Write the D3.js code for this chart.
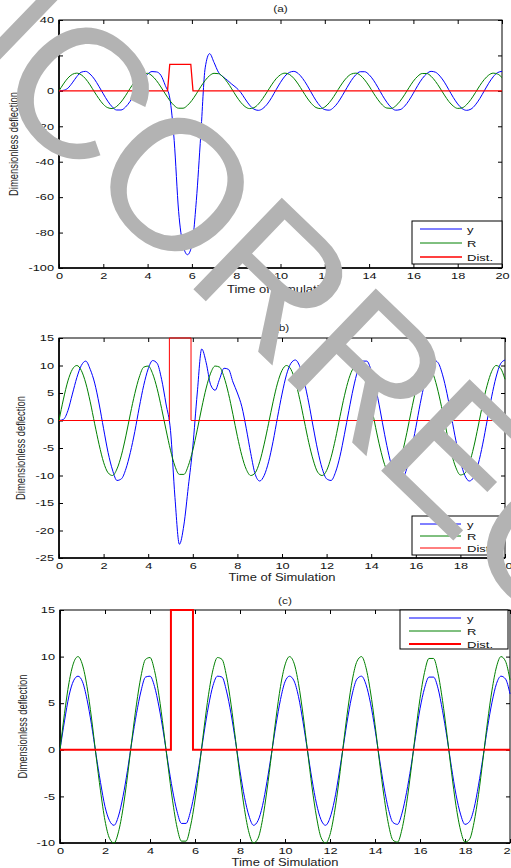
<!doctype html>
<html lang="en">
<head>
  <meta charset="utf-8">
  <title>Dimensionless deflection</title>
  <script src="https://cdn.jsdelivr.net/npm/d3@7"></script>
  <style>
  body { margin: 0; background: #fff; }
  svg { display: block; font-family: "Liberation Sans", Arial, sans-serif; }
  </style>
</head>
<body>
<div id="chart"></div>
<script>
// sampling grid of the simulation, 0..20 step 0.2
var time = d3.range(0, 20.001, 0.2);

// reference signal R (same in all three runs)
var refR = [
  0, 3.9, 7.2, 9.3, 10.0, 9.1, 6.8, 3.4, -0.6, -4.4,
  -7.6, -9.5, -10.0, -8.8, -6.3, -2.8, 1.2, 4.9, 7.9, 9.7,
  9.9, 8.5, 5.8, 2.2, -1.7, -5.4, -8.3, -9.8, -9.8, -8.2,
  -5.4, -1.7, 2.3, 5.9, 8.6, 9.9, 9.7, 7.9, 4.9, 1.1,
  -2.9, -6.4, -8.9, -10.0, -9.5, -7.5, -4.3, -0.5, 3.4, 6.8,
  9.1, 10.0, 9.3, 7.1, 3.8, -0.1, -4.0, -7.2, -9.4, -10.0,
  -9.1, -6.7, -3.3, 0.7, 4.5, 7.6, 9.5, 10.0, 8.8, 6.2,
  2.7, -1.3, -5.0, -8.0, -9.7, -9.9, -8.5, -5.8, -2.2, 1.8,
  5.5, 8.3, 9.8, 9.8, 8.2, 5.3, 1.6, -2.4, -6.0, -8.6,
  -9.9, -9.6, -7.8, -4.8, -1.0, 3.0, 6.4, 8.9, 10.0, 9.5,
  7.5
];

// output y, run (a)
var outA = [
  0, 0.3, 1.5, 4.5, 8.0, 10.5, 11.0,
  9.5, 6.6, 2.6, -1.7, -5.8, -9.0, -10.8, -10.8, -9.2, -6.1, -2.0, 2.4, 6.4, 9.4, 10.9, 10.7, 8.8,
  3.0, -4.0, -28, -68, -87, -92.5, -87, -62, -25, 13, 21, 16, 10.5, 8.0, 6.0, 3.8, 1.8, -0.8, -4.5, -8.0, -10.3,
  -11.0, -10.0, -7.5, -3.8, 0.6, 4.8, 8.3, 10.4, 11.0, 9.8, 7.0, 3.2, -1.2, -5.4, -8.7,
  -10.6, -10.9, -9.4, -6.5, -2.5, 1.8, 5.9, 9.1, 10.8, 10.8, 9.1, 6.0, 1.9, -2.5, -6.4,
  -9.4, -10.9, -10.6, -8.7, -5.4, -1.3, 3.1, 6.9, 9.7, 11.0, 10.5, 8.3, 4.9, 0.6, -3.7,
  -7.4, -10.0, -11.0, -10.3, -7.9, -4.3, 0.0, 4.3, 7.9, 10.3, 11.0
];

// output y, run (b)
var outB = [
  0, 0.2, 1.8, 4.8, 7.8, 10.0, 10.8, 9.3, 6.8, 3.0, -1.5, -5.8, -9.0, -10.9, -10.6, -8.8, -5.8, -2.0, 2.4, 6.4,
  9.4, 10.9, 10.4, 7.5, 3.0,
  -1.8, -14, -22.5, -19, -12, -4.8, 5, 13, 10.5, 6.5, 5.5, 7.5, 9.5, 9.3, 7.0, 5.0, 2.5, -1.5, -6.0, -9.8,
  -11.0, -10.0, -7.5, -3.8, 0.6, 4.8, 8.3, 10.4, 11.0, 9.8, 7.0, 3.2, -1.2, -5.4, -8.7,
  -10.6, -10.9, -9.4, -6.5, -2.5, 1.8, 5.9, 9.1, 10.8, 10.8, 9.1, 6.0, 1.9, -2.5, -6.4,
  -9.4, -10.9, -10.6, -8.7, -5.4, -1.3, 3.1, 6.9, 9.7, 11.0, 10.5, 8.3, 4.9, 0.6, -3.7,
  -7.4, -10.0, -11.0, -10.3, -7.9, -4.3, 0.0, 4.3, 7.9, 10.3, 11.0
];

// output y, run (c)
var outC = [
  0, 3.1, 5.8, 7.4, 7.9, 7.3, 5.4, 2.7, -0.5, -3.5,
  -6.1, -7.6, -8.1, -7.1, -5.0, -2.2, 1.0, 3.9, 6.3, 7.8,
  7.9, 6.8, 4.6, 1.8, -1.4, -4.3, -6.6, -7.9, -7.9, -6.6,
  -4.3, -1.4, 1.8, 4.7, 6.9, 7.9, 7.8, 6.3, 3.9, 0.9,
  -2.3, -5.1, -7.1, -8.1, -7.6, -6.0, -3.4, -0.4, 2.7, 5.4,
  7.3, 7.9, 7.4, 5.7, 3.0, -0.1, -3.2, -5.8, -7.5, -8.1,
  -7.3, -5.4, -2.6, 0.5, 3.6, 6.1, 7.6, 7.9, 7.0, 5.0,
  2.2, -1.0, -4.0, -6.4, -7.8, -8.0, -6.8, -4.6, -1.8, 1.4,
  4.4, 6.6, 7.8, 7.8, 6.6, 4.2, 1.3, -1.9, -4.8, -6.9,
  -8.0, -7.7, -6.3, -3.8, -0.8, 2.4, 5.1, 7.1, 7.9, 7.6,
  6.0
];

// disturbance pulses
var distTimeA = [0, 4.9, 5.0, 5.95, 6.05, 20];
var distTimeB = [0, 4.95, 4.95, 5.92, 5.92, 20];
var distTimeC = [0, 4.93, 4.93, 5.91, 5.91, 20];
var distValue = [0, 0, 15, 15, 0, 0];

var xTicks = [0, 2, 4, 6, 8, 10, 12, 14, 16, 18, 20];
var yTicksA = [40, 20, 0, -20, -40, -60, -80, -100];
var yTicksB = [15, 10, 5, 0, -5, -10, -15, -20, -25];
var yTicksC = [15, 10, 5, 0, -5, -10];
var seriesNames = ["y", "R", "Dist."];
var seriesColors = ["#0000ff", "#008000", "#ff0000"];

var width = 511, height = 868;
var font = "Liberation Sans, Arial, sans-serif";

var svg = d3.select("#chart").append("svg")
    .attr("width", width)
    .attr("height", height);

var panels = [
  { title: "(a)", x0: 59, x1: 502, y0: 20, y1: 268, dom: [-100, 40], ticks: yTicksA,
    out: outA, distT: distTimeA, distW: 1.3, labX: 18, titleY: 12, xlabY: 293,
    leg: { x: 412, y: 221, w: 90, h: 43, rows: [229, 243, 257], l1: 420, l2: 462, tx: 467 } },
  { title: "(b)", x0: 59, x1: 505, y0: 338, y1: 558, dom: [-25, 15], ticks: yTicksB,
    out: outB, distT: distTimeB, distW: 1, labX: 25, titleY: 331, xlabY: 581,
    leg: { x: 412, y: 516, w: 87, h: 39, rows: [524, 536, 548], l1: 420, l2: 461, tx: 467 } },
  { title: "(c)", x0: 60, x1: 510, y0: 610, y1: 843, dom: [-10, 15], ticks: yTicksC,
    out: outC, distT: distTimeC, distW: 2, labX: 27, titleY: 604, xlabY: 866,
    leg: { x: 400, y: 610, w: 108, h: 39, rows: [618, 631, 644], l1: 409, l2: 461, tx: 467 } }
];

panels.forEach(function(p, i) {
  var w = p.x1 - p.x0, h = p.y1 - p.y0;
  var x = d3.scaleLinear().domain([0, 20]).range([0, w]);
  var y = d3.scaleLinear().domain(p.dom).range([h, 0]);

  var g = svg.append("g").attr("transform", "translate(" + p.x0 + "," + p.y0 + ")");

  g.append("clipPath").attr("id", "clip" + i)
    .append("rect").attr("x", -1).attr("y", -1).attr("width", w + 2).attr("height", h + 2);

  // box
  g.append("rect").attr("width", w).attr("height", h)
    .attr("fill", "none").attr("stroke", "#000").attr("stroke-width", 1);
  g.append("path").attr("d", "M0,0V" + h + "H" + w)
    .attr("fill", "none").attr("stroke", "#000").attr("stroke-width", 1.6);

  // axes, ticks pointing in
  var gx = g.append("g").attr("transform", "translate(0," + h + ")")
    .call(d3.axisBottom(x).tickValues(xTicks).tickSize(-4).tickPadding(5).tickFormat(String));
  var gy = g.append("g")
    .call(d3.axisLeft(y).tickValues(p.ticks).tickSize(-4).tickPadding(5).tickFormat(String));
  g.append("g").call(d3.axisTop(x).tickValues(xTicks).tickSize(-4).tickFormat(""));
  g.append("g").attr("transform", "translate(" + w + ",0)")
    .call(d3.axisRight(y).tickValues(p.ticks).tickSize(-4).tickFormat(""));
  g.selectAll(".domain").remove();
  g.selectAll("g").attr("font-family", font).attr("font-size", 8.5);
  gx.selectAll("text").attr("transform", "scale(1.5,1)").attr("fill", "#111");
  gy.selectAll("text").attr("x", -5 / 1.5).attr("transform", "scale(1.5,1)").attr("fill", "#111");

  var line = d3.line()
    .x(function(d) { return x(d[0]); })
    .y(function(d) { return y(d[1]); });
  var smooth = d3.line()
    .x(function(d) { return x(d[0]); })
    .y(function(d) { return y(d[1]); })
    .curve(d3.curveMonotoneX);

  var plot = g.append("g").attr("clip-path", "url(#clip" + i + ")");
  plot.append("path")
    .datum(time.map(function(t, k) { return [t, p.out[k]]; }))
    .attr("d", smooth).attr("fill", "none")
    .attr("stroke", seriesColors[0]).attr("stroke-width", 1);
  plot.append("path")
    .datum(time.map(function(t, k) { return [t, refR[k]]; }))
    .attr("d", smooth).attr("fill", "none")
    .attr("stroke", seriesColors[1]).attr("stroke-width", 1);
  plot.append("path")
    .datum(p.distT.map(function(t, k) { return [t, distValue[k]]; }))
    .attr("d", line).attr("fill", "none")
    .attr("stroke", seriesColors[2]).attr("stroke-width", p.distW);

  // title and labels
  svg.append("text").text(p.title)
    .attr("transform", "translate(" + (p.x0 + w / 2) + "," + p.titleY + ") scale(1.4,1)")
    .attr("text-anchor", "middle").attr("font-family", font).attr("font-size", 8.5)
    .attr("fill", "#222");
  svg.append("text").text("Time of Simulation")
    .attr("transform", "translate(" + (p.x0 + w / 2) + "," + p.xlabY + ") scale(1.3,1)")
    .attr("text-anchor", "middle").attr("font-family", font).attr("font-size", 10)
    .attr("fill", "#222");
  svg.append("text").text("Dimensionless deflection")
    .attr("transform", "translate(" + p.labX + "," + (p.y0 + h / 2) + ") scale(1.4,1) rotate(-90)")
    .attr("text-anchor", "middle").attr("font-family", font).attr("font-size", 9.4)
    .attr("fill", "#222");

  // legend
  var L = p.leg;
  svg.append("rect").attr("x", L.x).attr("y", L.y).attr("width", L.w).attr("height", L.h)
    .attr("fill", "#fff").attr("stroke", "#000").attr("stroke-width", 1);
  seriesNames.forEach(function(name, k) {
    svg.append("line").attr("x1", L.l1).attr("x2", L.l2)
      .attr("y1", L.rows[k]).attr("y2", L.rows[k])
      .attr("stroke", seriesColors[k]).attr("stroke-width", k == 2 ? p.distW : 1);
    svg.append("text").text(name)
      .attr("transform", "translate(" + L.tx + "," + (L.rows[k] + 3.5) + ") scale(1.4,1)")
      .attr("font-family", font).attr("font-size", 9.3).attr("fill", "#111");
  });
});

// grey proof watermark across the page
svg.append("text").text("UNCORRECTED")
  .attr("transform", "translate(-13,90) rotate(44)")
  .attr("x", -261)
  .attr("font-family", font)
  .attr("letter-spacing", -3)
  .attr("font-size", 185)
  .attr("fill", "#b3b3b3");
</script>
</body>
</html>
